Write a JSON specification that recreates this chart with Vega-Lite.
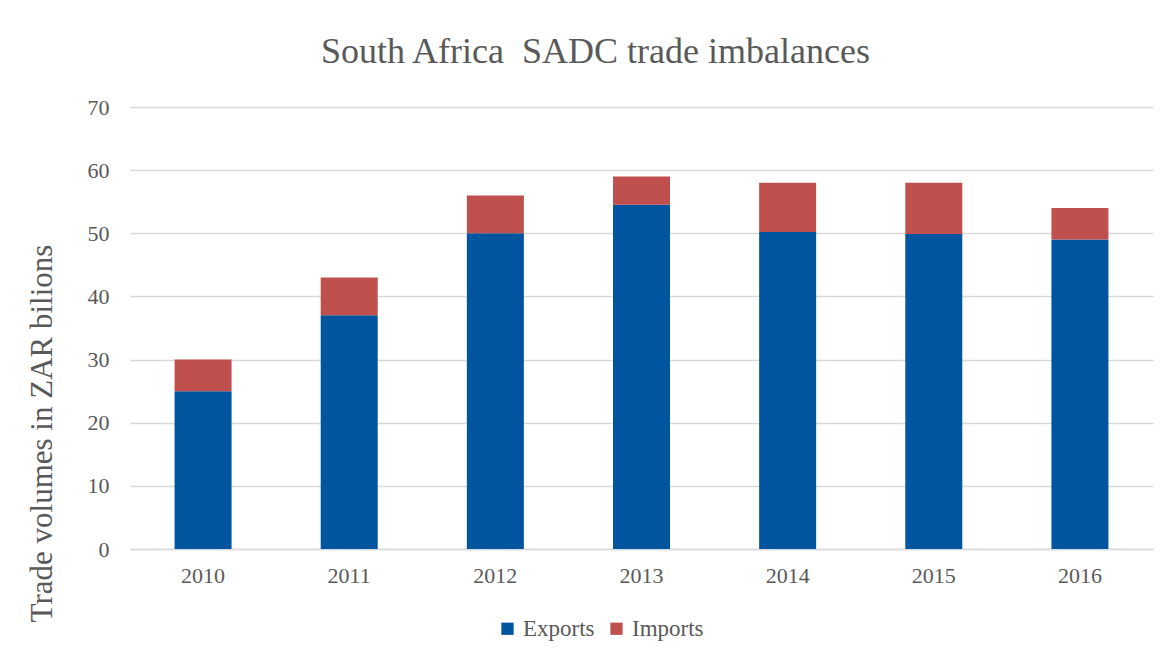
{
  "$schema": "https://vega.github.io/schema/vega-lite/v6.json",
  "autosize": "none",
  "width": 1023,
  "height": 442,
  "padding": {"left": 130, "top": 107, "right": 15, "bottom": 110},
  "background": "white",
  "config": {
    "view": {"stroke": null},
    "font": "Liberation Serif"
  },
  "title": {
    "text": "South Africa\u00a0 SADC trade imbalances",
    "font": "Liberation Serif",
    "fontSize": 36,
    "fontWeight": "normal",
    "color": "#595959",
    "anchor": "middle",
    "dx": -46,
    "dy": 3,
    "offset": 0,
    "baseline": "alphabetic"
  },
  "data": {
    "values": [
      {"year": "2010", "series": "Exports", "value": 25},
      {"year": "2010", "series": "Imports", "value": 5},
      {"year": "2011", "series": "Exports", "value": 37},
      {"year": "2011", "series": "Imports", "value": 6},
      {"year": "2012", "series": "Exports", "value": 50},
      {"year": "2012", "series": "Imports", "value": 6},
      {"year": "2013", "series": "Exports", "value": 54.5},
      {"year": "2013", "series": "Imports", "value": 4.5},
      {"year": "2014", "series": "Exports", "value": 50.2},
      {"year": "2014", "series": "Imports", "value": 7.8},
      {"year": "2015", "series": "Exports", "value": 49.9},
      {"year": "2015", "series": "Imports", "value": 8.1},
      {"year": "2016", "series": "Exports", "value": 49},
      {"year": "2016", "series": "Imports", "value": 5}
    ]
  },
  "mark": {"type": "bar"},
  "encoding": {
    "x": {
      "field": "year",
      "type": "nominal",
      "scale": {"paddingInner": 0.61, "paddingOuter": 0.305},
      "axis": {
        "title": null,
        "labelAngle": 0,
        "labelFont": "Liberation Serif",
        "labelFontSize": 22,
        "labelColor": "#595959",
        "labelPadding": 16,
        "ticks": false,
        "domainColor": "#d9d9d9",
        "domainWidth": 1.5
      }
    },
    "y": {
      "field": "value",
      "type": "quantitative",
      "stack": "zero",
      "scale": {"domain": [0, 70], "nice": false},
      "axis": {
        "title": "Trade volumes in ZAR bilions",
        "titleFont": "Liberation Serif",
        "titleFontSize": 31,
        "titleFontWeight": "normal",
        "titleColor": "#595959",
        "titleAngle": -90,
        "titleX": -88,
        "titleY": 326,
        "titleAlign": "center",
        "titleBaseline": "middle",
        "values": [0, 10, 20, 30, 40, 50, 60, 70],
        "labelFont": "Liberation Serif",
        "labelFontSize": 22,
        "labelColor": "#595959",
        "labelPadding": 21,
        "ticks": false,
        "domain": false,
        "gridColor": "#d9d9d9",
        "gridWidth": 1.5
      }
    },
    "color": {
      "field": "series",
      "type": "nominal",
      "scale": {"domain": ["Exports", "Imports"], "range": ["#00559f", "#c0504d"]},
      "legend": {
        "title": null,
        "orient": "none",
        "direction": "horizontal",
        "legendX": 366,
        "legendY": 510,
        "symbolType": "square",
        "symbolSize": 150,
        "symbolStrokeWidth": 0,
        "symbolOpacity": 1,
        "labelFont": "Liberation Serif",
        "labelFontSize": 23,
        "labelColor": "#595959",
        "labelOffset": 4,
        "columnPadding": 10
      }
    },
    "order": {"field": "series", "sort": "ascending"}
  }
}
